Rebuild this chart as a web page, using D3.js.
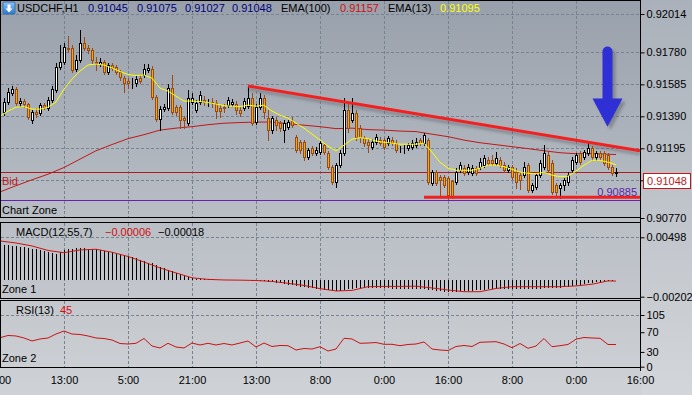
<!DOCTYPE html>
<html>
<head>
<meta charset="utf-8">
<script src="https://cdn.jsdelivr.net/npm/d3@7"></script>
<style>
    html, body { margin: 0; padding: 0; background: #c6cacf; }
    svg { display: block; font-family: "Liberation Sans", Arial, sans-serif; font-size: 11px; }
</style>
</head>
<body>
<svg id="chart" width="692" height="395"></svg>
<script>
/* global d3 */
(function() {
    'use strict';

    // ---- data (USDCHF H1, bars 1..154) ----
    var open = [0.91416, 0.91477, 0.91532, 0.91556, 0.91471, 0.91483, 0.91465, 0.91367, 0.91416, 0.91410,
        0.91458, 0.91440, 0.91489, 0.91550, 0.91691, 0.91721, 0.91807, 0.91807, 0.91678, 0.91733,
        0.91837, 0.91807, 0.91795, 0.91721, 0.91709, 0.91721, 0.91660, 0.91703, 0.91691, 0.91660,
        0.91623, 0.91605, 0.91599, 0.91593, 0.91623, 0.91642, 0.91672, 0.91678, 0.91507, 0.91373,
        0.91434, 0.91440, 0.91562, 0.91446, 0.91446, 0.91379, 0.91348, 0.91477, 0.91428, 0.91477,
        0.91489, 0.91471, 0.91477, 0.91471, 0.91440, 0.91446, 0.91458, 0.91465, 0.91465, 0.91428,
        0.91440, 0.91452, 0.91501, 0.91355, 0.91446, 0.91501, 0.91379, 0.91306, 0.91367, 0.91348,
        0.91306, 0.91324, 0.91361, 0.91263, 0.91232, 0.91232, 0.91141, 0.91196, 0.91165, 0.91171,
        0.91214, 0.91165, 0.91080, 0.90988, 0.91092, 0.91165, 0.91428, 0.91367, 0.91410, 0.91318,
        0.91257, 0.91232, 0.91202, 0.91232, 0.91245, 0.91245, 0.91226, 0.91245, 0.91226, 0.91196,
        0.91196, 0.91196, 0.91202, 0.91214, 0.91245, 0.91226, 0.91245, 0.90982, 0.91049, 0.91019,
        0.91019, 0.91012, 0.90994, 0.90988, 0.91061, 0.91074, 0.91049, 0.91043, 0.91074, 0.91080,
        0.91092, 0.91122, 0.91122, 0.91104, 0.91122, 0.91092, 0.91061, 0.91080, 0.91049, 0.91031,
        0.91031, 0.91092, 0.90939, 0.90957, 0.91031, 0.91080, 0.91153, 0.91104, 0.90970, 0.90951,
        0.90970, 0.90988, 0.91061, 0.91110, 0.91165, 0.91141, 0.91165, 0.91196, 0.91141, 0.91165,
        0.91165, 0.91153, 0.91080, 0.91045];
    var high = [0.91501, 0.91562, 0.91575, 0.91568, 0.91501, 0.91495, 0.91471, 0.91428, 0.91440, 0.91471,
        0.91471, 0.91507, 0.91575, 0.91715, 0.91825, 0.91837, 0.91880, 0.91825, 0.91764, 0.91917,
        0.91874, 0.91825, 0.91807, 0.91752, 0.91746, 0.91733, 0.91715, 0.91715, 0.91703, 0.91672,
        0.91636, 0.91623, 0.91623, 0.91636, 0.91642, 0.91709, 0.91709, 0.91697, 0.91520, 0.91452,
        0.91465, 0.91587, 0.91642, 0.91458, 0.91458, 0.91391, 0.91550, 0.91532, 0.91489, 0.91544,
        0.91513, 0.91495, 0.91501, 0.91489, 0.91458, 0.91465, 0.91507, 0.91495, 0.91483, 0.91446,
        0.91501, 0.91575, 0.91532, 0.91465, 0.91532, 0.91520, 0.91428, 0.91391, 0.91385, 0.91361,
        0.91367, 0.91367, 0.91385, 0.91275, 0.91245, 0.91245, 0.91196, 0.91208, 0.91202, 0.91245,
        0.91226, 0.91177, 0.91092, 0.91104, 0.91184, 0.91501, 0.91477, 0.91501, 0.91428, 0.91336,
        0.91269, 0.91251, 0.91251, 0.91281, 0.91263, 0.91257, 0.91269, 0.91263, 0.91245, 0.91208,
        0.91214, 0.91226, 0.91245, 0.91257, 0.91257, 0.91287, 0.91257, 0.91061, 0.91061, 0.91031,
        0.91031, 0.91025, 0.91000, 0.91074, 0.91110, 0.91092, 0.91098, 0.91092, 0.91086, 0.91135,
        0.91153, 0.91141, 0.91153, 0.91171, 0.91141, 0.91110, 0.91092, 0.91092, 0.91074, 0.91049,
        0.91110, 0.91104, 0.90982, 0.91043, 0.91122, 0.91214, 0.91171, 0.91122, 0.90982, 0.90982,
        0.91012, 0.91049, 0.91141, 0.91165, 0.91177, 0.91184, 0.91226, 0.91208, 0.91177, 0.91177,
        0.91177, 0.91165, 0.91092, 0.91075];
    var low = [0.91397, 0.91465, 0.91520, 0.91458, 0.91452, 0.91446, 0.91373, 0.91348, 0.91385, 0.91397,
        0.91434, 0.91428, 0.91477, 0.91538, 0.91678, 0.91709, 0.91782, 0.91660, 0.91666, 0.91721,
        0.91795, 0.91776, 0.91715, 0.91672, 0.91697, 0.91648, 0.91648, 0.91672, 0.91648, 0.91611,
        0.91538, 0.91562, 0.91562, 0.91575, 0.91593, 0.91630, 0.91660, 0.91495, 0.91361, 0.91306,
        0.91422, 0.91428, 0.91403, 0.91397, 0.91318, 0.91318, 0.91336, 0.91465, 0.91416, 0.91465,
        0.91458, 0.91452, 0.91446, 0.91379, 0.91385, 0.91416, 0.91446, 0.91452, 0.91403, 0.91391,
        0.91428, 0.91440, 0.91336, 0.91342, 0.91434, 0.91379, 0.91245, 0.91287, 0.91306, 0.91300,
        0.91232, 0.91312, 0.91324, 0.91171, 0.91165, 0.91122, 0.91129, 0.91153, 0.91153, 0.91159,
        0.91159, 0.91067, 0.90976, 0.90957, 0.91080, 0.91153, 0.91293, 0.91355, 0.91245, 0.91232,
        0.91208, 0.91171, 0.91190, 0.91220, 0.91214, 0.91190, 0.91214, 0.91214, 0.91171, 0.91171,
        0.91165, 0.91184, 0.91190, 0.91202, 0.91214, 0.91214, 0.90976, 0.90970, 0.90970, 0.90896,
        0.90957, 0.90884, 0.90890, 0.90976, 0.91049, 0.91031, 0.91037, 0.91031, 0.91031, 0.91067,
        0.91080, 0.91092, 0.91092, 0.91092, 0.91080, 0.91049, 0.91049, 0.91006, 0.90951, 0.90945,
        0.91019, 0.90927, 0.90927, 0.90945, 0.91019, 0.91067, 0.91049, 0.90915, 0.90902, 0.90890,
        0.90939, 0.90970, 0.91049, 0.91098, 0.91098, 0.91129, 0.91153, 0.91122, 0.91122, 0.91122,
        0.91092, 0.91067, 0.91031, 0.91027];
    var close = [0.91477, 0.91538, 0.91556, 0.91471, 0.91483, 0.91465, 0.91385, 0.91416, 0.91403, 0.91458,
        0.91446, 0.91489, 0.91556, 0.91691, 0.91721, 0.91813, 0.91801, 0.91672, 0.91733, 0.91837,
        0.91807, 0.91795, 0.91733, 0.91715, 0.91721, 0.91660, 0.91703, 0.91685, 0.91660, 0.91630,
        0.91593, 0.91593, 0.91599, 0.91617, 0.91605, 0.91678, 0.91685, 0.91507, 0.91373, 0.91434,
        0.91446, 0.91562, 0.91416, 0.91416, 0.91367, 0.91367, 0.91501, 0.91501, 0.91471, 0.91520,
        0.91477, 0.91471, 0.91471, 0.91422, 0.91422, 0.91440, 0.91489, 0.91477, 0.91428, 0.91410,
        0.91483, 0.91501, 0.91348, 0.91446, 0.91501, 0.91416, 0.91306, 0.91379, 0.91336, 0.91318,
        0.91348, 0.91355, 0.91336, 0.91184, 0.91184, 0.91141, 0.91184, 0.91165, 0.91184, 0.91226,
        0.91171, 0.91080, 0.90988, 0.91092, 0.91165, 0.91428, 0.91318, 0.91410, 0.91263, 0.91263,
        0.91226, 0.91214, 0.91232, 0.91263, 0.91226, 0.91202, 0.91257, 0.91226, 0.91184, 0.91196,
        0.91196, 0.91214, 0.91226, 0.91232, 0.91226, 0.91275, 0.90988, 0.91049, 0.90982, 0.91000,
        0.90970, 0.90909, 0.90902, 0.91049, 0.91092, 0.91043, 0.91080, 0.91074, 0.91043, 0.91110,
        0.91135, 0.91104, 0.91104, 0.91135, 0.91092, 0.91061, 0.91080, 0.91019, 0.90988, 0.91000,
        0.91080, 0.90939, 0.90970, 0.91031, 0.91104, 0.91165, 0.91061, 0.90927, 0.90927, 0.90970,
        0.91000, 0.91031, 0.91122, 0.91153, 0.91110, 0.91171, 0.91196, 0.91141, 0.91165, 0.91141,
        0.91104, 0.91080, 0.91043, 0.91048];

    // EMA(13) every 2 bars, EMA(100) every 4 bars
    var ema13Bars = d3.range(0, 155, 2);
    var ema13 = [0.91391, 0.91422, 0.91446, 0.91449, 0.91434, 0.91434, 0.91446, 0.91477, 0.91556, 0.91617,
        0.91666, 0.91703, 0.91709, 0.91703, 0.91685, 0.91663, 0.91645, 0.91639, 0.91642, 0.91623,
        0.91562, 0.91544, 0.91513, 0.91483, 0.91483, 0.91480, 0.91474, 0.91465, 0.91455, 0.91452,
        0.91449, 0.91458, 0.91452, 0.91458, 0.91422, 0.91397, 0.91379, 0.91348, 0.91318, 0.91281,
        0.91245, 0.91208, 0.91180, 0.91214, 0.91251, 0.91260, 0.91254, 0.91239, 0.91232, 0.91226,
        0.91220, 0.91220, 0.91220, 0.91226, 0.91171, 0.91110, 0.91074, 0.91061, 0.91061, 0.91061,
        0.91074, 0.91092, 0.91092, 0.91083, 0.91067, 0.91049, 0.91043, 0.91040, 0.91049, 0.91031,
        0.91022, 0.91025, 0.91055, 0.91092, 0.91122, 0.91122, 0.91110, 0.91095];
    var ema100Bars = d3.range(0, 153, 4).concat([154]);
    var ema100 = [0.90929, 0.90967, 0.91003, 0.91037, 0.91078, 0.91129, 0.91180, 0.91218, 0.91254, 0.91278,
        0.91306, 0.91318, 0.91327, 0.91339, 0.91348, 0.91352, 0.91355, 0.91355, 0.91345, 0.91336,
        0.91327, 0.91315, 0.91318, 0.91309, 0.91306, 0.91300, 0.91297, 0.91281, 0.91266, 0.91245,
        0.91229, 0.91217, 0.91205, 0.91193, 0.91180, 0.91168, 0.91162, 0.91162, 0.91159, 0.91157];

    // MACD(12,55,7): histogram per bar, signal every 4 bars
    var macd = [0.00408, 0.00402, 0.00396, 0.00390, 0.00384, 0.00378, 0.00372, 0.00366, 0.00355, 0.00343,
        0.00331, 0.00319, 0.00310, 0.00302, 0.00325, 0.00349, 0.00360, 0.00366, 0.00369, 0.00369,
        0.00369, 0.00366, 0.00360, 0.00355, 0.00343, 0.00337, 0.00329, 0.00319, 0.00307, 0.00296,
        0.00284, 0.00272, 0.00263, 0.00249, 0.00231, 0.00213, 0.00201, 0.00192, 0.00166, 0.00148,
        0.00131, 0.00113, 0.00095, 0.00078, 0.00060, 0.00042, 0.00031, 0.00019, 0.00007, 0.00004,
        0.00002, 0.00001, 0.00001, 0.00000, 0.00000, -0.00001, -0.00002, -0.00002, -0.00005, -0.00005,
        -0.00008, -0.00011, -0.00013, -0.00016, -0.00020, -0.00022, -0.00028, -0.00034, -0.00040, -0.00046,
        -0.00052, -0.00064, -0.00069, -0.00075, -0.00084, -0.00093, -0.00099, -0.00105, -0.00111, -0.00117,
        -0.00119, -0.00123, -0.00126, -0.00131, -0.00134, -0.00128, -0.00117, -0.00107, -0.00102, -0.00099,
        -0.00099, -0.00099, -0.00099, -0.00102, -0.00102, -0.00105, -0.00105, -0.00107, -0.00111, -0.00111,
        -0.00114, -0.00117, -0.00117, -0.00117, -0.00117, -0.00114, -0.00123, -0.00128, -0.00134, -0.00140,
        -0.00143, -0.00146, -0.00146, -0.00143, -0.00140, -0.00138, -0.00134, -0.00131, -0.00126, -0.00123,
        -0.00119, -0.00117, -0.00114, -0.00111, -0.00111, -0.00111, -0.00111, -0.00111, -0.00111, -0.00111,
        -0.00111, -0.00111, -0.00111, -0.00111, -0.00107, -0.00105, -0.00102, -0.00102, -0.00099, -0.00099,
        -0.00093, -0.00087, -0.00081, -0.00069, -0.00064, -0.00052, -0.00046, -0.00040, -0.00034, -0.00028,
        -0.00022, -0.00020, -0.00016, -0.00006];
    var signalBars = d3.range(0, 153, 4).concat([154]);
    var signal = [0.00455, 0.00431, 0.00396, 0.00343, 0.00316, 0.00349, 0.00357, 0.00322, 0.00272, 0.00207,
        0.00137, 0.00078, 0.00021, 0.00002, -0.00005, -0.00007, -0.00011, -0.00022, -0.00044, -0.00069,
        -0.00107, -0.00134, -0.00128, -0.00084, -0.00081, -0.00081, -0.00078, -0.00099, -0.00123, -0.00143,
        -0.00143, -0.00105, -0.00084, -0.00084, -0.00084, -0.00084, -0.00075, -0.00055, -0.00016, -0.00018];

    // RSI(13) every 2 bars
    var rsiBars = d3.range(0, 155, 2);
    var rsi = [58.9, 63.4, 62.4, 58.3, 52.2, 56.3, 58.3, 66.4, 72.5, 66.4,
        65.4, 62.4, 58.3, 57.3, 54.2, 47.1, 46.1, 47.5, 57.3, 42.0,
        38.0, 47.5, 40.0, 38.0, 48.1, 44.1, 47.5, 44.1, 47.1, 44.1,
        48.1, 52.2, 40.0, 48.1, 41.0, 43.1, 42.7, 33.9, 37.0, 35.9,
        40.6, 31.9, 35.9, 57.7, 56.3, 47.5, 48.1, 49.1, 45.5, 45.5,
        42.7, 45.1, 46.1, 50.2, 35.9, 33.9, 32.9, 41.0, 43.1, 41.0,
        49.6, 50.2, 50.8, 46.1, 38.6, 47.1, 37.4, 42.0, 57.3, 40.6,
        42.7, 45.1, 55.9, 59.3, 58.3, 57.7, 45.1, 45.0];

    // drawn objects and axis labels
    var trendBars = [62, 160];
    var trendPrices = [0.91575, 0.91180];
    var supportBars = [106, 160];
    var supportPrices = [0.90896, 0.90896];
    var arrowBar = 152;
    var arrowPrices = [0.91785, 0.91499, 0.91326]; // shaft top, head base, tip
    var bid = 0.91048;
    var zoneLevel = 0.90885;
    var priceTicks = [0.92014, 0.91780, 0.91585, 0.91390, 0.91195, 0.91000, 0.90770];
    var macdTicks = [0.00498, -0.00202];
    var rsiTicks = [105, 70, 30, 0];
    var timeBars = d3.range(0, 161, 16);
    var timeLabels = ['0:00', '13:00', '5:00', '21:00', '13:00', '8:00', '0:00', '16:00', '8:00', '0:00', '16:00'];

    var W = 692, H = 395, R = 640;
    var pMain = {top: 0, bottom: 217};
    var pMacd = {top: 222, bottom: 298};
    var pRsi = {top: 300, bottom: 367};

    var x = d3.scaleLinear().domain([0, 160]).range([0, R]);
    var yMain = d3.scaleLinear().domain([0.90770, 0.92014]).range([218, 14]);
    var yMacd = d3.scaleLinear().domain([-0.00202, 0.00498]).range([296.7, 237.3]);
    var yRsi = d3.scaleLinear().domain([0, 105]).range([366.7, 315]);

    var svg = d3.select('#chart');
    var defs = svg.append('defs');

    var bg = defs.append('linearGradient').attr('id', 'bg')
        .attr('x1', 0).attr('y1', 0).attr('x2', 0).attr('y2', 1);
    bg.append('stop').attr('offset', '0%').attr('stop-color', '#98a0ab');
    bg.append('stop').attr('offset', '55%').attr('stop-color', '#b9bec5');
    bg.append('stop').attr('offset', '100%').attr('stop-color', '#cfd2d6');

    var axisBg = defs.append('linearGradient').attr('id', 'axisBg')
        .attr('x1', 0).attr('y1', 0).attr('x2', 0).attr('y2', 1);
    axisBg.append('stop').attr('offset', '0%').attr('stop-color', '#aab1ba');
    axisBg.append('stop').attr('offset', '100%').attr('stop-color', '#d3d6da');

    var icon = defs.append('linearGradient').attr('id', 'icon')
        .attr('x1', 0).attr('y1', 0).attr('x2', 0).attr('y2', 1);
    icon.append('stop').attr('offset', '0%').attr('stop-color', '#8cc4f4');
    icon.append('stop').attr('offset', '100%').attr('stop-color', '#2a78d0');

    defs.append('filter').attr('id', 'blur')
        .attr('x', '-10%').attr('y', '-50%').attr('width', '120%').attr('height', '200%')
        .append('feGaussianBlur').attr('stdDeviation', 1.6);

    [['clipMain', pMain], ['clipMacd', pMacd], ['clipRsi', pRsi]].forEach(function(c) {
        defs.append('clipPath').attr('id', c[0]).append('rect')
            .attr('x', 1).attr('y', c[1].top + 1)
            .attr('width', R - 1).attr('height', c[1].bottom - c[1].top - 1);
    });

    // backgrounds
    svg.append('rect').attr('width', W).attr('height', H).attr('fill', 'url(#bg)');
    svg.append('rect').attr('x', R + 1).attr('width', W - R - 1).attr('height', H)
        .attr('fill', 'url(#axisBg)');

    // grids
    var gridColor = '#77838f';
    function vGrid(p) {
        svg.append('g').selectAll('line')
            .data(timeBars.slice(1, -1))
            .enter().append('line')
            .attr('x1', function(d) { return Math.round(x(d)) + 0.5; })
            .attr('x2', function(d) { return Math.round(x(d)) + 0.5; })
            .attr('y1', p.top + 1).attr('y2', p.bottom)
            .attr('stroke', gridColor).attr('stroke-dasharray', '3,2');
    }
    function hGrid(vals, scale) {
        svg.append('g').selectAll('line')
            .data(vals)
            .enter().append('line')
            .attr('x1', 1).attr('x2', R)
            .attr('y1', function(d) { return Math.round(scale(d)) + 0.5; })
            .attr('y2', function(d) { return Math.round(scale(d)) + 0.5; })
            .attr('stroke', gridColor).attr('stroke-dasharray', '3,2');
    }
    vGrid(pMain);
    vGrid(pMacd);
    vGrid(pRsi);
    hGrid(priceTicks.slice(0, -1), yMain);
    hGrid([macdTicks[0]], yMacd);
    hGrid([rsiTicks[0]], yRsi);

    // ---- main panel ----
    var main = svg.append('g').attr('clip-path', 'url(#clipMain)');

    // EMA(100)
    main.append('path')
        .datum(ema100)
        .attr('fill', 'none').attr('stroke', '#c01818').attr('stroke-width', 1)
        .attr('d', d3.line()
            .x(function(d, i) { return x(ema100Bars[i]); })
            .y(function(d) { return yMain(d); }));

    // bid and zone levels
    var bidY = Math.round(yMain(bid)) + 0.5;
    var zoneY = Math.ceil(yMain(zoneLevel)) + 0.5;
    main.append('line')
        .attr('x1', 0).attr('x2', R)
        .attr('y1', bidY).attr('y2', bidY)
        .attr('stroke', '#b01c1c');
    main.append('line')
        .attr('x1', 0).attr('x2', R)
        .attr('y1', zoneY).attr('y2', zoneY)
        .attr('stroke', '#6a1fb0');

    // trend line shadows then lines
    [[trendBars, trendPrices], [supportBars, supportPrices]].forEach(function(t) {
        main.append('line')
            .attr('x1', x(t[0][0])).attr('x2', x(t[0][1]))
            .attr('y1', yMain(t[1][0]) + 3).attr('y2', yMain(t[1][1]) + 3)
            .attr('stroke', '#4d535c').attr('stroke-opacity', 0.45).attr('stroke-width', 3)
            .attr('filter', 'url(#blur)');
    });

    // candles
    var bars = d3.range(1, close.length + 1);
    var candles = main.append('g').selectAll('g')
        .data(bars)
        .enter().append('g');

    function isUp(i) { return close[i] > open[i]; }
    function isDoji(i) { return close[i] === open[i]; }

    candles.append('line')
        .attr('x1', function(d) { return x(d) + 0.5; })
        .attr('x2', function(d) { return x(d) + 0.5; })
        .attr('y1', function(d, i) { return Math.round(yMain(high[i])); })
        .attr('y2', function(d, i) { return Math.round(yMain(low[i])) + 1; })
        .attr('stroke', function(d, i) { return (isUp(i) || isDoji(i)) ? '#000' : '#9a4a16'; });

    candles.append('rect')
        .attr('x', function(d) { return x(d) - 0.5; })
        .attr('y', function(d, i) { return Math.round(yMain(Math.max(open[i], close[i]))) + 0.5; })
        .attr('width', 2)
        .attr('height', function(d, i) {
            var h = Math.round(yMain(Math.min(open[i], close[i]))) - Math.round(yMain(Math.max(open[i], close[i])));
            return Math.max(h, 0);
        })
        .attr('fill', function(d, i) { return isUp(i) ? '#ffffff' : '#f4a900'; })
        .attr('stroke', function(d, i) {
            if (isDoji(i)) { return '#000'; }
            return isUp(i) ? '#000' : '#9a4a16';
        });

    // EMA(13)
    main.append('path')
        .datum(ema13)
        .attr('fill', 'none').attr('stroke', '#ffff00').attr('stroke-width', 1)
        .attr('d', d3.line()
            .x(function(d, i) { return x(ema13Bars[i]); })
            .y(function(d) { return yMain(d); }));

    [[trendBars, trendPrices], [supportBars, supportPrices]].forEach(function(t) {
        main.append('line')
            .attr('x1', x(t[0][0])).attr('x2', x(t[0][1]))
            .attr('y1', yMain(t[1][0])).attr('y2', yMain(t[1][1]))
            .attr('stroke', '#f42020').attr('stroke-width', 3);
    });

    // blue arrow annotation
    var ax = x(arrowBar) - 0.5;
    var aTop = yMain(arrowPrices[0]), aBase = yMain(arrowPrices[1]), aTip = yMain(arrowPrices[2]);
    var arrowPath = 'M' + (ax - 5) + ',' + aTop +
        'a5,5 0 0 1 10,0' +
        'L' + (ax + 5) + ',' + aBase +
        'L' + (ax + 15) + ',' + aBase +
        'L' + ax + ',' + aTip +
        'L' + (ax - 15) + ',' + aBase +
        'L' + (ax - 5) + ',' + aBase + 'Z';
    main.append('path').attr('d', arrowPath)
        .attr('transform', 'translate(3,3)')
        .attr('fill', '#4d535c').attr('fill-opacity', 0.45).attr('filter', 'url(#blur)');
    main.append('path').attr('d', arrowPath).attr('fill', '#2f2fd6');

    // main labels
    svg.append('text').attr('x', 2).attr('y', bidY + 12.5)
        .attr('fill', '#c01818').text('Bid');
    svg.append('text').attr('x', 637).attr('y', zoneY - 5)
        .attr('text-anchor', 'end').attr('fill', '#5a23a8').text(d3.format('.5f')(zoneLevel));
    svg.append('text').attr('x', 2).attr('y', 214).attr('fill', '#000').text('Chart Zone');

    // header
    svg.append('rect').attr('x', 3).attr('y', 2).attr('width', 12).attr('height', 12)
        .attr('rx', 1).attr('fill', 'url(#icon)').attr('stroke', '#3a6fb0');
    svg.append('path').attr('d', 'M7.5,4.5h3v4h2l-3.5,4l-3.5,-4h2z').attr('fill', '#ffffff');
    var header = svg.append('text').attr('y', 12);
    header.append('tspan').attr('x', 17).attr('fill', '#000').text('USDCHF,H1');
    [open[153], high[153], low[153], close[153]].forEach(function(v, i) {
        header.append('tspan').attr('x', [88, 137, 185, 232][i]).attr('fill', '#00007a')
            .text(d3.format('.5f')(v));
    });
    header.append('tspan').attr('x', 281).attr('fill', '#000').text('EMA(100)');
    header.append('tspan').attr('x', 340).attr('fill', '#d01010')
        .text(d3.format('.5f')(ema100[ema100.length - 1]));
    header.append('tspan').attr('x', 388).attr('fill', '#000').text('EMA(13)');
    header.append('tspan').attr('x', 440).attr('fill', '#ffff00')
        .text(d3.format('.5f')(ema13[ema13.length - 1]));

    // ---- MACD panel ----
    var mg = svg.append('g').attr('clip-path', 'url(#clipMacd)');
    mg.selectAll('line.h')
        .data(macd)
        .enter().append('line')
        .attr('class', 'h')
        .attr('x1', function(d, i) { return x(i + 1) + 0.5; })
        .attr('x2', function(d, i) { return x(i + 1) + 0.5; })
        .attr('y1', Math.round(yMacd(0)))
        .attr('y2', function(d) { return Math.round(yMacd(d)); })
        .attr('stroke', '#000');
    mg.append('path')
        .datum(signal)
        .attr('fill', 'none').attr('stroke', '#d01010')
        .attr('d', d3.line()
            .x(function(d, i) { return x(signalBars[i]); })
            .y(function(d) { return yMacd(d); }));
    var mh = svg.append('text').attr('y', 236);
    mh.append('tspan').attr('x', 16).attr('fill', '#000').text('MACD(12,55,7)');
    mh.append('tspan').attr('x', 105).attr('fill', '#d01010').text(d3.format('.5f')(macd[macd.length - 1]));
    mh.append('tspan').attr('x', 158).attr('fill', '#000').text(d3.format('.5f')(signal[signal.length - 1]));
    svg.append('text').attr('x', 2).attr('y', 293).text('Zone 1');

    // ---- RSI panel ----
    var rg = svg.append('g').attr('clip-path', 'url(#clipRsi)');
    rg.append('path')
        .datum(rsi)
        .attr('fill', 'none').attr('stroke', '#c81414')
        .attr('d', d3.line()
            .x(function(d, i) { return x(rsiBars[i]); })
            .y(function(d) { return yRsi(d); }));
    var rh = svg.append('text').attr('y', 314);
    rh.append('tspan').attr('x', 16).attr('fill', '#000').text('RSI(13)');
    rh.append('tspan').attr('x', 60).attr('fill', '#d01010').text(Math.round(rsi[rsi.length - 1]));
    svg.append('text').attr('x', 2).attr('y', 362).text('Zone 2');

    // ---- frames ----
    [pMain, pMacd, pRsi].forEach(function(p) {
        svg.append('rect')
            .attr('x', 0.5).attr('y', p.top + 0.5)
            .attr('width', R).attr('height', p.bottom - p.top)
            .attr('fill', 'none').attr('stroke', '#000');
    });

    // ---- axes ----
    function styleAxis(g) {
        g.select('.domain').remove();
        g.selectAll('.tick line').attr('stroke', '#000');
        g.selectAll('.tick text').attr('fill', '#000')
            .style('font-family', '"Liberation Sans", Arial, sans-serif').style('font-size', '11px');
    }
    svg.append('g').attr('transform', 'translate(' + (R + 0.5) + ',0)')
        .call(d3.axisRight(yMain).tickValues(priceTicks).tickFormat(d3.format('.5f'))
            .tickSize(4).tickPadding(2))
        .call(styleAxis);
    svg.append('g').attr('transform', 'translate(' + (R + 0.5) + ',0)')
        .call(d3.axisRight(yMacd).tickValues(macdTicks).tickFormat(d3.format('.5f'))
            .tickSize(4).tickPadding(2))
        .call(styleAxis);
    svg.append('g').attr('transform', 'translate(' + (R + 0.5) + ',0)')
        .call(d3.axisRight(yRsi).tickValues(rsiTicks).tickSize(4).tickPadding(2))
        .call(styleAxis);
    svg.append('line').attr('x1', R + 0.5).attr('x2', R + 0.5).attr('y1', 0).attr('y2', 371)
        .attr('stroke', '#000');

    // bid price tag
    var by = Math.round(yMain(bid));
    svg.append('rect').attr('x', 643.5).attr('y', by + 1.5).attr('width', 47).attr('height', 15)
        .attr('fill', '#ffffff').attr('stroke', '#c01818');
    svg.append('text').attr('x', 667).attr('y', by + 13).attr('text-anchor', 'middle')
        .attr('fill', '#c01818').text(d3.format('.5f')(bid));

    svg.append('g').attr('transform', 'translate(0,' + pRsi.bottom + ')')
        .call(d3.axisBottom(x).tickValues(timeBars)
            .tickFormat(function(d, i) { return timeLabels[i]; })
            .tickSize(0).tickPadding(9))
        .call(styleAxis);
})();
</script>
</body>
</html>
